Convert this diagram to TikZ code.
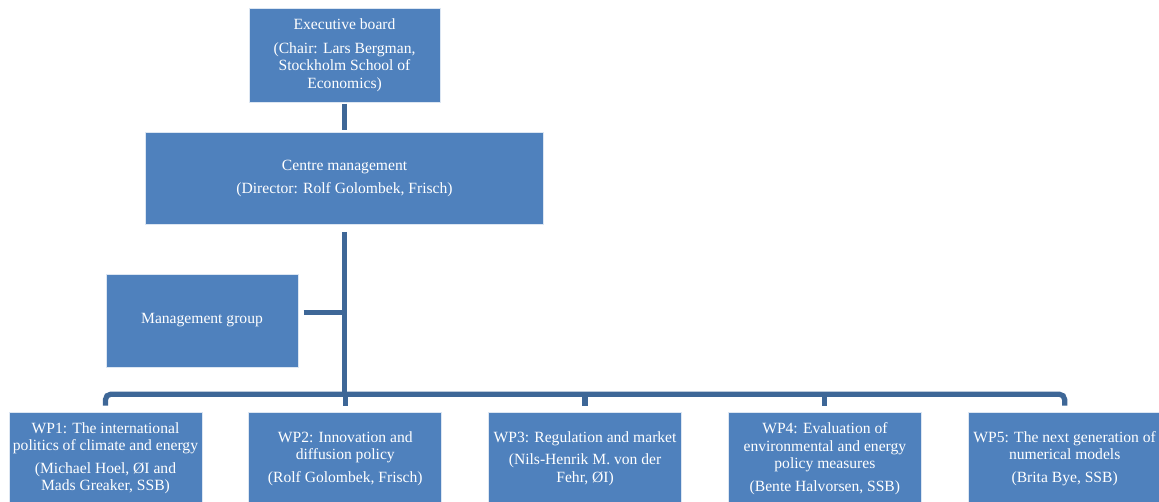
\documentclass[tikz,border=0pt]{standalone}
\usepackage{fontspec}
\setmainfont{Liberation Serif}
\usepackage{xcolor}
\usepackage{tikz}
\usetikzlibrary{positioning}
\definecolor{boxblue}{HTML}{4F81BD}
\definecolor{lineblue}{HTML}{3E6797}

\begin{document}
\begin{tikzpicture}[
 unit/.style={draw=white!80!boxblue,line width=0.6pt,fill=boxblue,text=white,align=center,inner sep=0pt,
  font=\fontsize{11.7}{13}\selectfont,minimum height=69.75pt},
 wpbox/.style={unit,minimum width=144.75pt},
 link/.style={draw=lineblue,line width=3.9pt},
]
\useasboundingbox (0,0) rectangle (869.25pt,-375.75pt);
\clip (0,0) rectangle (869.25pt,-375.75pt);

\node[unit,minimum width=143.25pt,minimum height=70.5pt] (exec) at (258.4pt,-41.25pt)
 {Executive board\\[5pt] (Chair: Lars Bergman,\\ Stockholm School of\\ Economics)};
\node[unit,minimum width=298.5pt,minimum height=69pt,below=22.5pt of exec] (centre)
 {Centre management\\[4pt] (Director: Rolf Golombek, Frisch)};
\node[unit,minimum width=144pt] (mgmt) at (151.5pt,-240.4pt) {Management group};

\node[wpbox] (wp1) at (79.1pt,-343.9pt)
 {WP1: The international\\ politics of climate and energy\\[4pt] (Michael Hoel, ØI and\\ Mads Greaker, SSB)};
\node[wpbox,right=34.5pt of wp1] (wp2)
 {WP2: Innovation and\\ diffusion policy\\[4pt] (Rolf Golombek, Frisch)};
\node[wpbox,right=34.5pt of wp2] (wp3)
 {WP3: Regulation and market\\[4pt] (Nils-Henrik M. von der\\ Fehr, ØI)};
\node[wpbox,right=34.5pt of wp3] (wp4)
 {WP4: Evaluation of\\ environmental and energy\\ policy measures\\[4pt] (Bente Halvorsen, SSB)};
\node[wpbox,right=34.5pt of wp4] (wp5)
 {WP5: The next generation of\\ numerical models\\[4pt] (Brita Bye, SSB)};

% connectors
\coordinate (bus) at ([yshift=-126.75pt]centre.south);
\draw[link,shorten <=1pt,shorten >=1.5pt] (exec.south) -- (centre.north);
\draw[link,shorten <=5pt] (centre.south) -- (bus);
\draw[link,shorten <=4pt] ([yshift=6pt]mgmt.east) -- ([yshift=6pt]mgmt.east -| centre.south);
\draw[link,rounded corners=4pt] ([yshift=4.5pt]wp1.north) |- (bus) -| ([yshift=4.5pt]wp5.north);
\foreach \w in {wp2,wp3,wp4}
 \draw[link] (\w.north |- bus) -- ([yshift=4.5pt]\w.north);
\end{tikzpicture}
\end{document}
